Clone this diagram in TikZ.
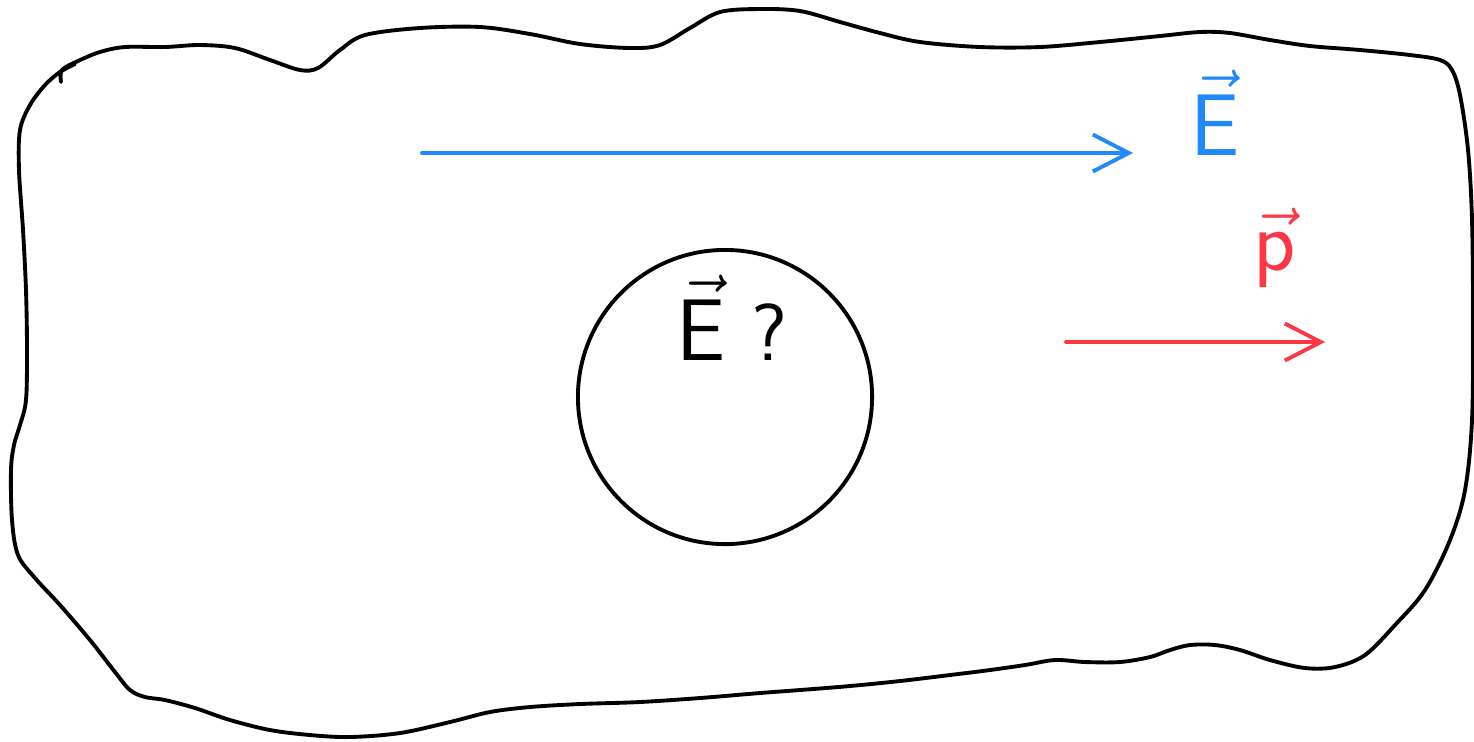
\documentclass[tikz,border=0pt]{standalone}
\usepackage{amsmath}
\usetikzlibrary{arrows.meta}

\definecolor{fieldblue}{RGB}{33,137,250}
\definecolor{dipolered}{RGB}{252,55,70}

\tikzset{
  sketch/.style={line width=1.1pt, line join=round, line cap=round},
  vecarrow/.style={sketch, -{Straight Barb[length=3.6mm,width=3.7mm,line width=1.1pt]}},
  hand/.style={inner sep=0pt}
}

\begin{document}
\begin{tikzpicture}[x=0.01cm,y=-0.01cm]
\useasboundingbox (0,0) rectangle (1474,741);

% ===== Rand des Dielektrikums =====
\draw[sketch] plot[smooth, tension=0.55] coordinates {
  (61,82) (62,70) (78,61) (100,52) (125,47) (165,47) (200,45) (235,48)
  (270,60) (300,70) (318,68) (340,50) (365,35) (420,28) (480,27) (530,34)
  (580,44) (630,48) (660,45) (690,28) (720,12) (760,9) (800,11) (840,22)
  (880,33) (920,42) (980,47) (1040,47) (1100,42) (1160,36) (1200,32)
  (1230,33) (1270,40) (1310,46) (1360,50) (1410,55) (1440,60) (1452,70)
  (1460,95) (1468,150) (1472,220) (1473,320) (1472,420) (1465,490)
  (1450,540) (1425,590) (1395,625) (1365,655) (1335,667) (1305,668)
  (1270,660) (1240,650) (1215,645) (1190,645) (1170,650) (1150,657)
  (1120,662) (1085,662) (1055,660) (1025,665) (990,670) (950,675)
  (900,681) (850,686) (800,690) (760,693) (700,698) (640,702) (580,704)
  (530,707) (490,712) (450,722) (400,733) (350,737) (310,735) (270,730)
  (230,720) (195,708) (165,700) (145,697) (130,690) (115,672) (90,640)
  (60,605) (35,578) (18,555) (12,520) (11,470) (14,445) (20,425)
  (26,400) (27,350) (26,290) (23,230) (19,170) (20,130) (30,105)
  (45,85) (60,72) (75,64)};

% ===== Hohlraum =====
\node[sketch, draw, circle, minimum size=2.94cm, inner sep=0pt] (hole) at (725,397) {};
\node[hand, font=\fontsize{23}{26}\selectfont\sffamily] (Eq) at (732,318) {$\vec{\mathsf{E}}$\ ?};

% ===== Feld =====
\coordinate (Estart) at (422,153);
\coordinate (Eend) at (1133,153);
\draw[vecarrow, fieldblue] (Estart) -- (Eend);
\node[hand, text=fieldblue, font=\fontsize{27}{30}\selectfont] (Elabel) at (1215,113) {$\vec{\mathsf{E}}$};

% ===== Dipolmoment =====
\coordinate (Pstart) at (1066,342);
\coordinate (Pend) at (1325,342);
\draw[vecarrow, dipolered] (Pstart) -- (Pend);
\node[hand, text=dipolered, font=\fontsize{38}{42}\selectfont] (Plabel) at (1275,248) {$\vec{\mathsf{p}}$};

\end{tikzpicture}
\end{document}
